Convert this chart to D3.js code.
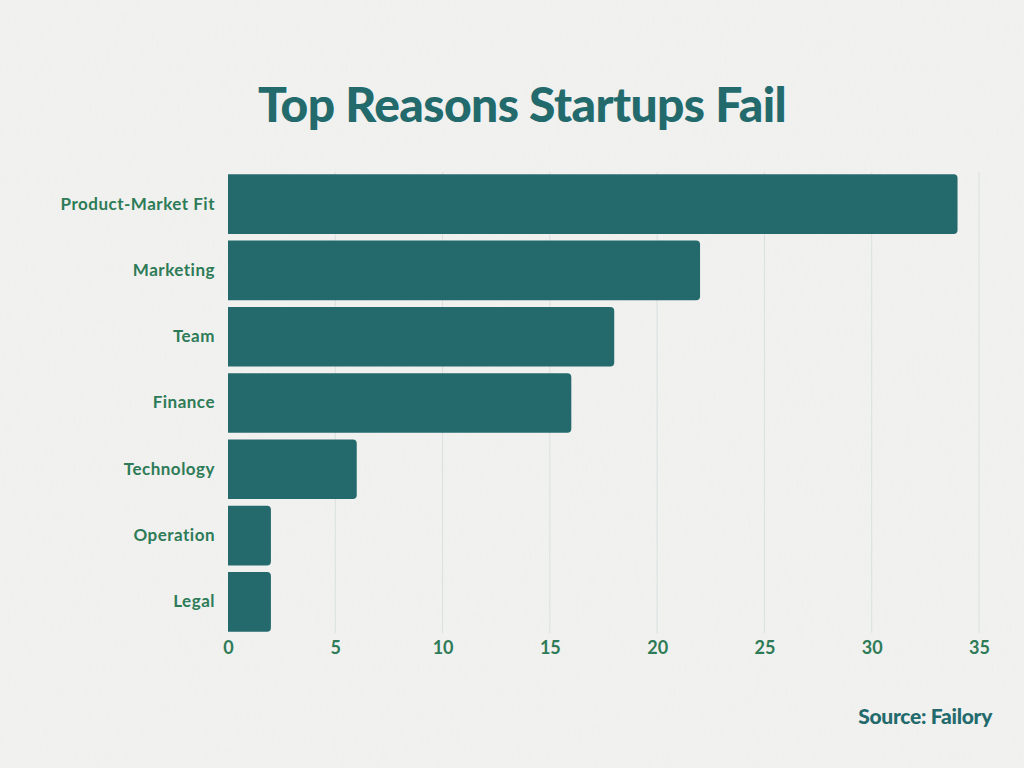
<!DOCTYPE html>
<html lang="en">
<head>
<meta charset="UTF-8">
<title>Top Reasons Startups Fail</title>
<script src="https://cdn.jsdelivr.net/npm/d3@7/dist/d3.min.js"></script>
<style>
    html, body { margin: 0; padding: 0; background: #f2f2f1; }
    svg { display: block; }
</style>
</head>
<body>
<svg id="mainsvg" width="1024" height="768"></svg>
<script>
    // data
    const reasons = ['Product-Market Fit', 'Marketing', 'Team', 'Finance', 'Technology', 'Operation', 'Legal'];
    const counts = [34, 22, 18, 16, 6, 2, 2];
    const xTicks = [0, 5, 10, 15, 20, 25, 30, 35];

    const mainsvg = d3.select('#mainsvg');
    const width = +mainsvg.attr('width');
    const barColor = '#246a6d';
    const labelColor = '#2e7b57';
    const titleColor = '#236a6c';

    // faint paper texture
    const defs = mainsvg.append('defs');
    const filter = defs.append('filter').attr('id', 'paper');
    filter.append('feTurbulence')
        .attr('type', 'fractalNoise')
        .attr('baseFrequency', '0.9 0.08')
        .attr('numOctaves', 2)
        .attr('seed', 3);
    filter.append('feColorMatrix')
        .attr('values', '0 0 0 0 0.5  0 0 0 0 0.5  0 0 0 0 0.5  0 0 0 0.06 0');
    mainsvg.append('rect').attr('width', width).attr('height', 768).attr('fill', '#f2f2f1');
    mainsvg.append('rect').attr('width', width).attr('height', 768).attr('filter', 'url(#paper)');

    const xScale = d3.scaleLinear().domain([0, 35]).range([228, 979]);
    const yScale = d3.scaleBand()
        .domain(reasons)
        .range([171, 635])
        .paddingInner(0.1)
        .paddingOuter(0.05);

    //Title
    mainsvg.append('text')
        .attr('x', 522)
        .attr('y', 122)
        .attr('text-anchor', 'middle')
        .attr('font-family', 'Lato, sans-serif')
        .attr('font-weight', 900)
        .attr('font-size', 48)
        .attr('letter-spacing', -0.6)
        .attr('fill', titleColor)
        .text('Top Reasons Startups Fail');

    //grid
    mainsvg.append('g')
        .selectAll('line')
        .data(xTicks.filter(d => d > 0))
        .join('line')
        .attr('x1', d => xScale(d)).attr('x2', d => xScale(d))
        .attr('y1', 172).attr('y2', 633)
        .attr('stroke', '#d9e1df')
        .attr('stroke-width', 1);

    //xAxis
    const xAxis = mainsvg.append('g')
        .attr('transform', 'translate(0, 637)')
        .call(d3.axisBottom(xScale).tickValues(xTicks).tickSize(0).tickPadding(4));
    xAxis.select('.domain').remove();
    xAxis.selectAll('text')
        .attr('font-family', 'Lato, sans-serif')
        .attr('font-weight', 700)
        .attr('font-size', 18)
        .attr('fill', labelColor);

    //yAxis
    const yAxis = mainsvg.append('g')
        .attr('transform', 'translate(215, 0)')
        .call(d3.axisLeft(yScale).tickSize(0).tickPadding(0));
    yAxis.select('.domain').remove();
    yAxis.selectAll('text')
        .attr('font-family', 'Lato, sans-serif')
        .attr('font-weight', 700)
        .attr('font-size', 17)
        .attr('letter-spacing', 0.5)
        .attr('fill', labelColor);

    //bars, rounded on the right end only
    const r = 4;
    const barPath = d => {
        const x0 = xScale(0), x1 = xScale(d.v);
        const y0 = yScale(d.k), h = yScale.bandwidth();
        return `M${x0},${y0} H${x1 - r} Q${x1},${y0} ${x1},${y0 + r} V${y0 + h - r} Q${x1},${y0 + h} ${x1 - r},${y0 + h} H${x0} Z`;
    };
    mainsvg.append('g')
        .selectAll('path')
        .data(reasons.map((k, i) => ({k: k, v: counts[i]})))
        .join('path')
        .attr('d', barPath)
        .attr('fill', barColor);

    //Source
    mainsvg.append('text')
        .attr('x', 992)
        .attr('y', 724)
        .attr('text-anchor', 'end')
        .attr('font-family', 'Lato, sans-serif')
        .attr('font-weight', 900)
        .attr('font-size', 21)
        .attr('letter-spacing', -0.3)
        .attr('fill', titleColor)
        .text('Source: Failory');
</script>
</body>
</html>
